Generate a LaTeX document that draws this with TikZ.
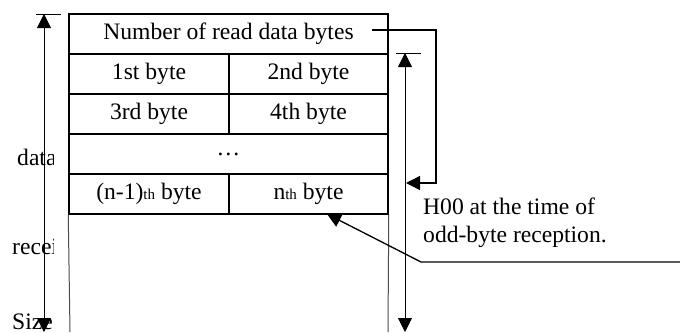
\documentclass[tikz,border=0pt]{standalone}
\usepackage{fontspec}
\setmainfont{Liberation Serif}
\usetikzlibrary{arrows.meta}
\newcommand{\smallth}{{\fontsize{15}{15}\selectfont th}}
\tikzset{
  cell/.style={draw,line width=1.5pt,inner sep=0pt,minimum height=40pt,
    font=\fontsize{23.6}{28}\selectfont},
  lbl/.style={inner sep=0pt,font=\fontsize{23.6}{28}\selectfont},
  dimarrow/.style={line width=0.9pt,{Triangle[length=14pt,width=14pt]}-{Triangle[length=14pt,width=14pt]}},
  tick/.style={line width=0.9pt},
  side/.style={line width=1pt,black!70},
  pointer/.style={line width=1.3pt,-{Triangle[length=14pt,width=14pt]}}
}
\begin{document}
\begin{tikzpicture}[x=1pt,y=-1pt]
\useasboundingbox[fill=white] (0,0) rectangle (680,332);
% cells
\node[cell,minimum width=319pt] (num) at (228.5,34) {Number of read data bytes};
\node[cell,minimum width=160pt] (b1) at (149,74) {1st byte};
\node[cell,minimum width=159pt] (b2) at (308.5,74) {2nd byte};
\node[cell,minimum width=160pt] (b3) at (149,114) {3rd byte};
\node[cell,minimum width=159pt] (b4) at (308.5,114) {4th byte};
\node[cell,minimum width=319pt] (dots) at (228.5,154) {\ldots};
\node[cell,minimum width=160pt] (bm) at (149,194) {(n-1)\smallth\ byte};
\node[cell,minimum width=159pt] (bn) at (308.5,194) {n\smallth\ byte};
% lower sides of the area
\coordinate (lsb) at (70,332);
\coordinate (rsb) at (388,332);
\draw[side] (bm.south west) -- (lsb);
\draw[side] (bn.south east) -- (rsb);
% left labels (clipped)
\begin{scope}
\clip (0,0) rectangle (53.5,332);
\node[lbl,anchor=base west] (tdata) at (17,165) {data};
\node[lbl,anchor=base west] (trecei) at (12,254) {recei};
\node[lbl,anchor=base west] (tsize) at (12,329) {Size};
\end{scope}
% left dimension arrow
\coordinate (lt1) at (36,14);
\coordinate (lt2) at (61,14);
\coordinate (ltop) at (44,14);
\coordinate (lbot) at (44,332);
\draw[tick] (lt1) -- (lt2);
\draw[dimarrow] (ltop) -- (lbot);
% right dimension arrow
\coordinate (rt1) at (396,53);
\coordinate (rt2) at (421,53);
\coordinate (rtop) at (405,53);
\coordinate (rbot) at (405,332);
\draw[tick] (rt1) -- (rt2);
\draw[dimarrow] (rtop) -- (rbot);
% bracket from number of bytes to the data size arrow
\coordinate (bs) at (372,30);
\coordinate (bc) at (436,30);
\coordinate (be) at (406,183);
\draw[pointer] (bs) -- (bc) |- (be);
% note text
\node[lbl,anchor=base west] (h1) at (423,214) {H00 at the time of};
\node[lbl,anchor=base west] (h2) at (423,242) {odd-byte reception.};
% leader line to nth byte
\coordinate (ld0) at (680,262);
\coordinate (ld1) at (421,262);
\coordinate (ldtip) at (327,214);
\draw[pointer] (ld0) -- (ld1) -- (ldtip);
\end{tikzpicture}
\end{document}
